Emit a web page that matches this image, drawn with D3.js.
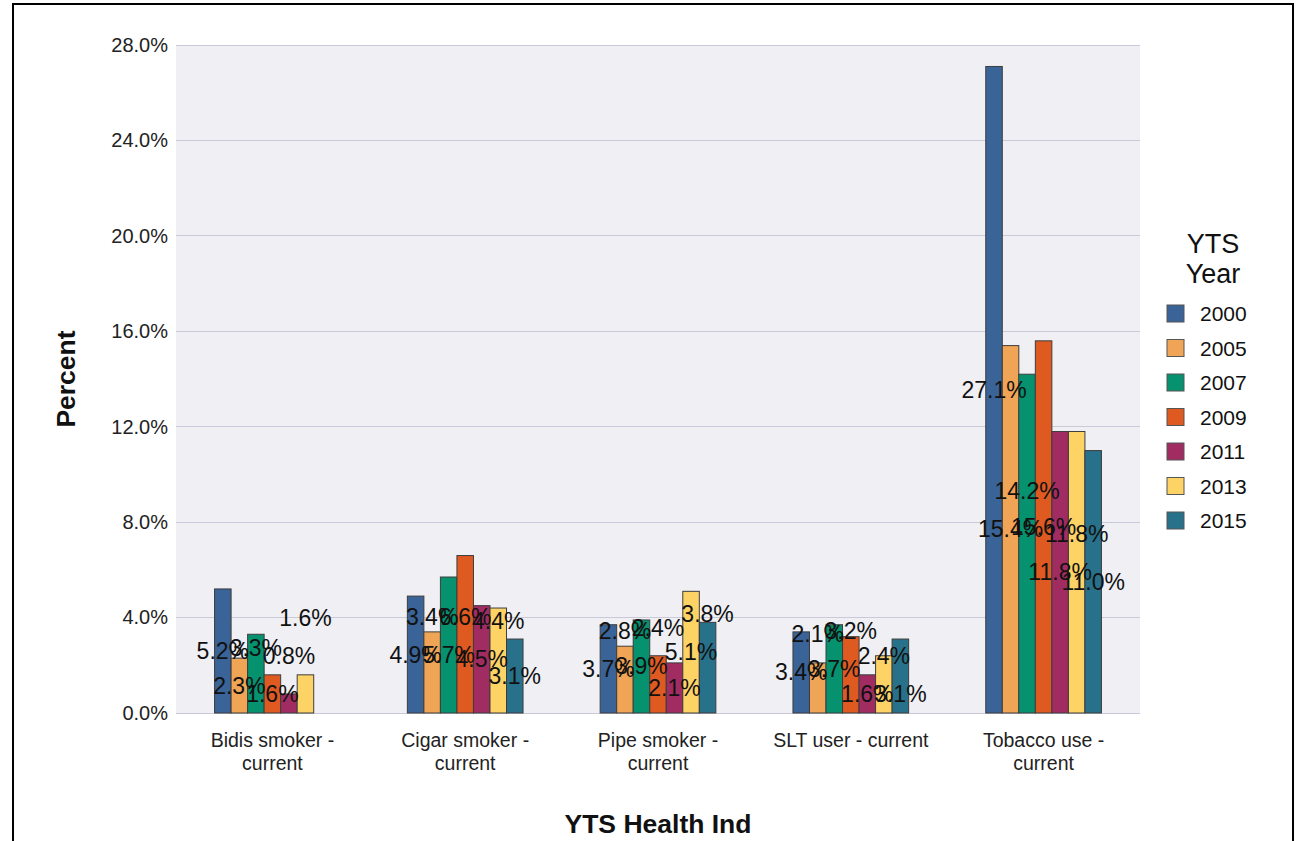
<!DOCTYPE html>
<html>
<head>
<meta charset="utf-8" />
<title>YTS Health Ind</title>
<script src="https://cdn.jsdelivr.net/npm/d3@7"></script>
<style>
    body {
        margin: 0;
        background: #ffffff;
        font-family: "Liberation Sans", Arial, sans-serif;
    }
    .grid line {
        stroke: #c9c9d9;
        stroke-width: 1px;
        shape-rendering: crispEdges;
    }
    .axis path, .axis line {
        display: none;
    }
</style>
</head>
<body>
<svg id="chart" width="1297" height="841"></svg>
<script>
    // data
    var categories = ["Bidis smoker - current", "Cigar smoker - current", "Pipe smoker - current",
        "SLT user - current", "Tobacco use - current"];
    var years = ["2000", "2005", "2007", "2009", "2011", "2013", "2015"];
    var colors = ["#3a6397", "#f0a455", "#06916f", "#de5a21", "#a12c62", "#fed366", "#28718a"];

    var v2000 = [5.2, 4.9, 3.7, 3.4, 27.1];
    var v2005 = [2.3, 3.4, 2.8, 2.1, 15.4];
    var v2007 = [3.3, 5.7, 3.9, 3.7, 14.2];
    var v2009 = [1.6, 6.6, 2.4, 3.2, 15.6];
    var v2011 = [0.8, 4.5, 2.1, 1.6, 11.8];
    var v2013 = [1.6, 4.4, 5.1, 2.4, 11.8];
    var v2015 = [null, 3.1, 3.8, 3.1, 11.0];
    var series = [v2000, v2005, v2007, v2009, v2011, v2013, v2015];

    var yTicks = [0, 4, 8, 12, 16, 20, 24, 28];

    var margin = {top: 45, left: 176, right: 157, bottom: 128};
    var W = 1297, H = 841;
    var width = W - margin.left - margin.right,
        height = H - margin.top - margin.bottom;

    var svg = d3.select("#chart");

    // outer frame
    svg.append("rect")
        .attr("x", 13).attr("y", 4)
        .attr("width", 1280).attr("height", 850)
        .attr("fill", "none")
        .attr("stroke", "#000")
        .attr("stroke-width", 2);

    var g = svg.append("g")
        .attr("transform", "translate(" + margin.left + "," + margin.top + ")");

    var x0 = d3.scaleBand().domain(categories).range([0, width]).paddingInner(0).paddingOuter(0);
    var x1 = d3.scaleBand().domain(years).range([0, x0.bandwidth() * 0.6]);
    var y = d3.scaleLinear().domain([0, 28]).range([height, 0]);

    g.append("rect")
        .attr("width", width).attr("height", height)
        .attr("fill", "#efeff4");

    g.append("g")
        .attr("class", "grid")
        .selectAll("line")
        .data(yTicks)
        .enter().append("line")
        .attr("x1", 0).attr("x2", width)
        .attr("y1", function(d) { return y(d); })
        .attr("y2", function(d) { return y(d); });

    var yAxis = g.append("g")
        .attr("class", "axis")
        .call(d3.axisLeft(y).tickValues(yTicks).tickSize(0).tickPadding(8)
            .tickFormat(function(d) { return d.toFixed(1) + "%"; }));
    yAxis.selectAll("text")
        .attr("font-family", "Liberation Sans, Arial, sans-serif")
        .attr("font-size", "20px")
        .attr("fill", "#222");

    var xAxis = g.append("g")
        .attr("class", "axis")
        .attr("transform", "translate(0," + height + ")")
        .call(d3.axisBottom(x0).tickSize(0).tickFormat(""));

    // category labels on two lines
    var catLabel = g.append("g").selectAll("text")
        .data(categories)
        .enter().append("text")
        .attr("x", function(d) { return x0(d) + x0.bandwidth() / 2; })
        .attr("y", height + 34)
        .attr("text-anchor", "middle")
        .attr("font-size", "19.5px")
        .attr("fill", "#222");
    catLabel.each(function(d) {
        var m = d.match(/^(.*?) - current$/);
        var line1 = m ? m[1] + " -" : d;
        var t = d3.select(this);
        if (d == "SLT user - current") {
            t.append("tspan").text(d);
        } else {
            t.append("tspan").attr("x", t.attr("x")).text(line1);
            t.append("tspan").attr("x", t.attr("x")).attr("dy", 23).text("current");
        }
    });

    // bars
    var rows = [];
    categories.forEach(function(c, ci) {
        years.forEach(function(yr, si) {
            rows.push({cat: c, ci: ci, year: yr, si: si, value: series[si][ci]});
        });
    });
    var barData = rows.filter(function(d) { return d.value != null; });

    var groupOffset = (x0.bandwidth() - x1.range()[1]) / 2;

    g.selectAll(".bar")
        .data(barData)
        .enter().append("rect")
        .attr("class", "bar")
        .attr("x", function(d) { return x0(d.cat) + groupOffset + x1(d.year); })
        .attr("width", x1.bandwidth())
        .attr("y", function(d) { return y(d.value); })
        .attr("height", function(d) { return height - y(d.value); })
        .attr("fill", function(d) { return colors[d.si]; })
        .attr("stroke", "#3d3d3d")
        .attr("stroke-width", 1);

    // value labels: centred in the bar, nudged when they hit an earlier label
    var gap = 38, hit = 34;
    categories.forEach(function(c) {
        var placed = [];
        barData.filter(function(d) { return d.cat == c; }).forEach(function(d) {
            var mid = (y(d.value) + height) / 2;
            var ly = mid;
            var prev = placed[placed.length - 1];
            var prev2 = placed[placed.length - 2];
            if (prev && Math.abs(mid - prev.ly) < hit) {
                ly = prev.up ? prev.ly + gap : prev.ly - gap;
            } else if (prev2 && Math.abs(mid - prev2.ly) < 2) {
                ly = prev.ly - gap;
            }
            d.ly = ly;
            d.up = ly < mid - 1;
            placed.push(d);
        });
    });

    g.selectAll(".label")
        .data(barData)
        .enter().append("text")
        .attr("class", "label")
        .attr("x", function(d) { return x0(d.cat) + groupOffset + x1(d.year) + x1.bandwidth() / 2; })
        .attr("y", function(d) { return d.ly + 8; })
        .attr("text-anchor", "middle")
        .attr("font-size", "23px")
        .attr("fill", "#111")
        .text(function(d) { return d.value.toFixed(1) + "%"; });

    // axis titles
    svg.append("text")
        .attr("transform", "translate(75," + (margin.top + height / 2) + ") rotate(-90)")
        .attr("text-anchor", "middle")
        .attr("font-size", "26.5px")
        .attr("font-weight", "bold")
        .attr("fill", "#111")
        .text("Percent");

    svg.append("text")
        .attr("x", margin.left + width / 2)
        .attr("y", 833)
        .attr("text-anchor", "middle")
        .attr("font-size", "26.5px")
        .attr("font-weight", "bold")
        .attr("fill", "#111")
        .text("YTS Health Ind");

    // legend
    var legend = svg.append("g").attr("transform", "translate(1167,0)");
    legend.append("text")
        .attr("x", 46).attr("y", 253)
        .attr("text-anchor", "middle")
        .attr("font-size", "27px")
        .attr("fill", "#111")
        .text("YTS");
    legend.append("text")
        .attr("x", 46).attr("y", 283)
        .attr("text-anchor", "middle")
        .attr("font-size", "27px")
        .attr("fill", "#111")
        .text("Year");

    var legendStep = 34.5;
    legend.selectAll(".sw")
        .data(years)
        .enter().append("rect")
        .attr("class", "sw")
        .attr("x", 0)
        .attr("y", function(d, i) { return 305 + i * legendStep; })
        .attr("width", 17).attr("height", 17)
        .attr("fill", function(d, i) { return colors[i]; })
        .attr("stroke", "#555")
        .attr("stroke-width", 1);
    legend.selectAll(".lt")
        .data(years)
        .enter().append("text")
        .attr("class", "lt")
        .attr("x", 33)
        .attr("y", function(d, i) { return 321 + i * legendStep; })
        .attr("font-size", "21px")
        .attr("fill", "#111")
        .text(function(d) { return d; });
</script>
</body>
</html>
